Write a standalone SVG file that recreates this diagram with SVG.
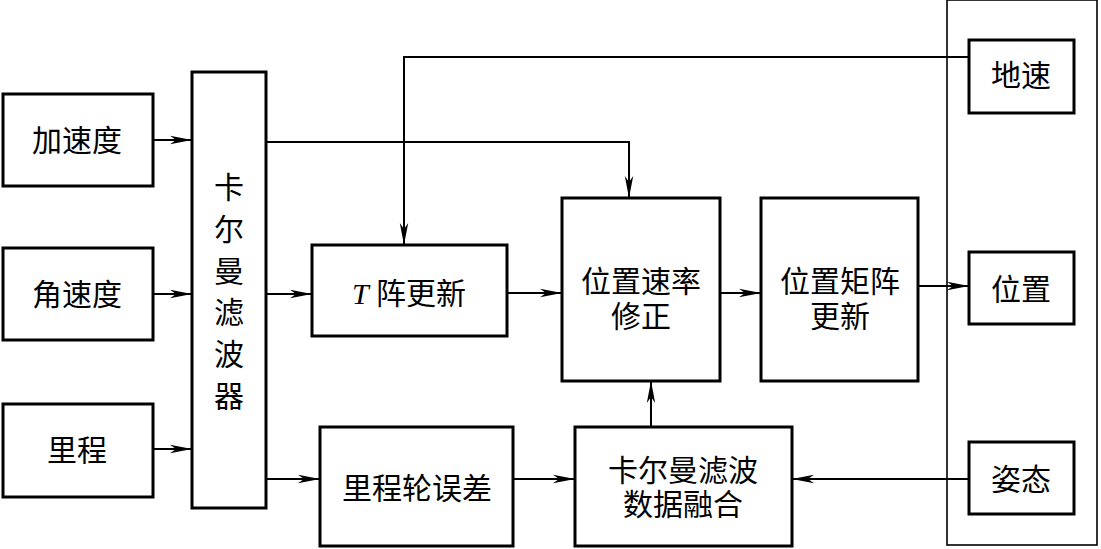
<svg xmlns="http://www.w3.org/2000/svg" width="1101" height="549" viewBox="0 0 1101 549">
<style>
.b{fill:#fff;stroke:#000;stroke-width:3}
.o{fill:none;stroke:#000;stroke-width:1.6}
.c{fill:none;stroke:#000;stroke-width:2}
text{font-family:"Liberation Serif","Noto Sans CJK SC",serif;font-size:30px;fill:#000;text-anchor:middle;dominant-baseline:central}
</style>
<defs>
<marker id="a" markerWidth="24" markerHeight="10" refX="22" refY="5" orient="auto" markerUnits="userSpaceOnUse">
<path d="M0,0.8 L22,5 L0,9.2 L6,5 z" fill="#000"/>
</marker>
</defs>
<rect x="0" y="0" width="1101" height="549" fill="#fff"/>
<g id="outer"><rect class="o" x="947" y="0" width="150" height="545"/></g>
<g id="n_acc"><rect class="b" x="3" y="94" width="150" height="92"/><text x="77" y="140">加速度</text></g>
<g id="n_gyro"><rect class="b" x="3" y="248" width="150" height="92"/><text x="77" y="294">角速度</text></g>
<g id="n_odo"><rect class="b" x="3" y="404" width="150" height="93"/><text x="77" y="450">里程</text></g>
<g id="n_kf"><rect class="b" x="192" y="72" width="74" height="436"/>
<text x="229" y="187">卡</text><text x="229" y="229">尔</text><text x="229" y="271">曼</text><text x="229" y="312">滤</text><text x="229" y="354">波</text><text x="229" y="396">器</text></g>
<g id="n_t"><rect class="b" x="312" y="245" width="195" height="91"/><text x="409" y="293"><tspan font-style="italic">T</tspan> 阵更新</text></g>
<g id="n_posvel"><rect class="b" x="562" y="198" width="158" height="183"/><text x="641" y="281">位置速率</text><text x="641" y="316">修正</text></g>
<g id="n_posmat"><rect class="b" x="761" y="198" width="157" height="183"/><text x="840" y="281">位置矩阵</text><text x="840" y="316">更新</text></g>
<g id="n_odoerr"><rect class="b" x="320" y="427" width="193" height="119"/><text x="417" y="488">里程轮误差</text></g>
<g id="n_fuse"><rect class="b" x="575" y="427" width="217" height="119"/><text x="683" y="470">卡尔曼滤波</text><text x="683" y="504">数据融合</text></g>
<g id="n_gs"><rect class="b" x="969" y="40" width="105" height="73"/><text x="1021" y="75">地速</text></g>
<g id="n_pos"><rect class="b" x="969" y="252" width="105" height="72"/><text x="1021" y="289">位置</text></g>
<g id="n_att"><rect class="b" x="969" y="442" width="105" height="72"/><text x="1021" y="479">姿态</text></g>
<g id="connectors">
<path class="c" d="M153,140 H192" marker-end="url(#a)"/>
<path class="c" d="M153,294 H192" marker-end="url(#a)"/>
<path class="c" d="M153,449 H192" marker-end="url(#a)"/>
<path class="c" d="M266,142 H629 V198" marker-end="url(#a)"/>
<path class="c" d="M969,57 H404 V245" marker-end="url(#a)"/>
<path class="c" d="M266,294 H312" marker-end="url(#a)"/>
<path class="c" d="M507,293 H562" marker-end="url(#a)"/>
<path class="c" d="M720,293 H761" marker-end="url(#a)"/>
<path class="c" d="M918,286 H969" marker-end="url(#a)"/>
<path class="c" d="M266,479 H320" marker-end="url(#a)"/>
<path class="c" d="M513,479 H575" marker-end="url(#a)"/>
<path class="c" d="M969,479 H792" marker-end="url(#a)"/>
<path class="c" d="M651,427 V381" marker-end="url(#a)"/>
</g>
</svg>
